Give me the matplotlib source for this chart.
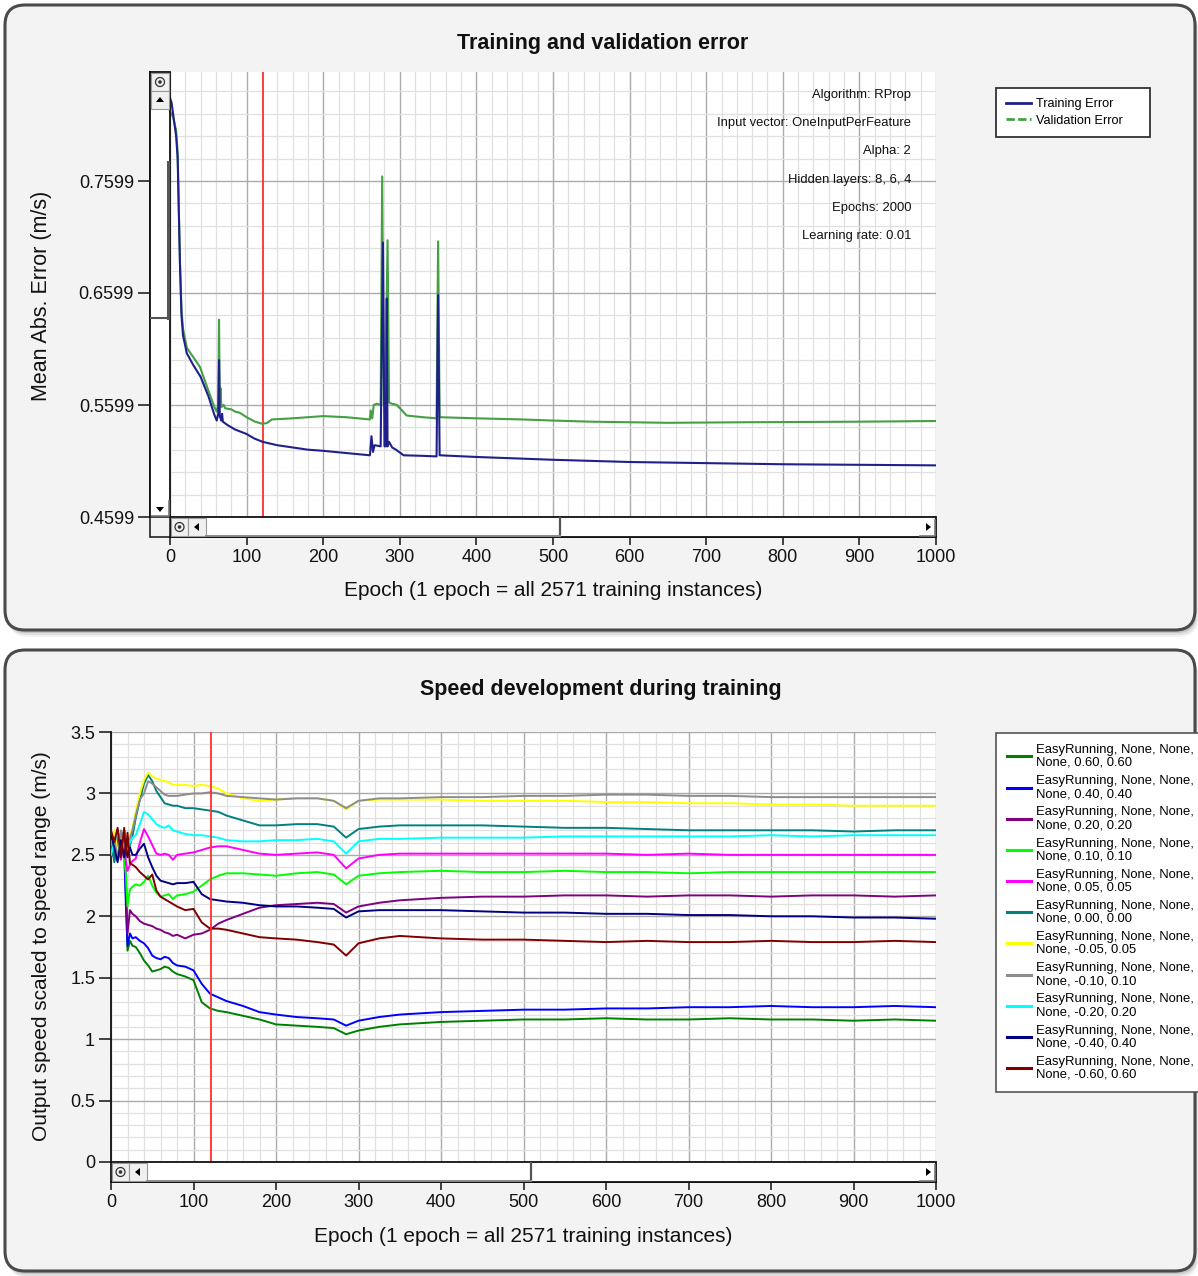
import matplotlib
matplotlib.use('Agg')
import matplotlib.pyplot as plt
from matplotlib.patches import FancyBboxPatch, Rectangle, Polygon, Circle
from matplotlib.lines import Line2D
from matplotlib.ticker import FixedLocator, MultipleLocator
import numpy as np

# ---------------- data: top chart ----------------
train_epoch = [0, 2, 5, 8, 10, 13, 15, 17, 22, 30, 40, 50, 58, 61, 63, 64, 65, 67, 68,
               69, 75, 85, 100, 110, 121, 140, 160, 180, 200, 230, 261, 263, 265, 267, 275,
               278, 280, 282, 283, 284, 286, 290, 295, 305, 330, 348, 350, 352, 400, 500,
               600, 700, 800, 900, 1000]
train_err = [0.834, 0.830, 0.815, 0.800, 0.780, 0.685, 0.640, 0.622, 0.606, 0.596, 0.585,
             0.568, 0.551, 0.546, 0.552, 0.600, 0.550, 0.546, 0.552, 0.545, 0.542, 0.538,
             0.534, 0.530, 0.527, 0.524, 0.522, 0.520, 0.519, 0.517, 0.515, 0.532, 0.518,
             0.524, 0.523, 0.705, 0.523, 0.523, 0.655, 0.523, 0.527, 0.522, 0.520, 0.515,
             0.5145, 0.514, 0.658, 0.515, 0.5135, 0.511, 0.509, 0.508, 0.507, 0.5065, 0.506]

val_epoch = [0, 4, 8, 10, 13, 15, 17, 22, 30, 39, 50, 58, 61, 63, 64, 65, 66, 67, 70, 72,
             80, 85, 91, 100, 111, 121, 127, 133, 160, 200, 230, 261, 262, 264, 266, 270,
             275, 277, 279, 281, 284, 286, 290, 296, 309, 330, 348, 350, 352, 400, 460,
             500, 550, 650, 750, 900, 1000]
val_err = [0.822, 0.817, 0.805, 0.785, 0.689, 0.645, 0.628, 0.611, 0.603, 0.594, 0.573,
           0.558, 0.554, 0.560, 0.636, 0.560, 0.575, 0.558, 0.560, 0.557, 0.556, 0.554,
           0.553, 0.549, 0.545, 0.543, 0.544, 0.547, 0.548, 0.550, 0.549, 0.547, 0.555,
           0.548, 0.560, 0.561, 0.560, 0.764, 0.560, 0.561, 0.707, 0.562, 0.561, 0.560,
           0.5505, 0.549, 0.548, 0.706, 0.549, 0.548, 0.547, 0.546, 0.545, 0.544, 0.5445,
           0.545, 0.5456]

top_info = ["Algorithm: RProp", "Input vector: OneInputPerFeature", "Alpha: 2",
            "Hidden layers: 8, 6, 4", "Epochs: 2000", "Learning rate: 0.01"]
top_yticks = [0.4599, 0.5599, 0.6599, 0.7599]
marker_epoch = 121

# ---------------- data: bottom chart ----------------
speed_epoch = [0, 4, 8, 12, 16, 18, 20, 23, 26, 30, 35, 40, 45, 50, 55, 60, 65, 70, 75, 80,
               90, 100, 110, 120, 130, 140, 160, 180, 200, 225, 250, 270, 285, 300, 325,
               350, 400, 450, 500, 550, 600, 650, 700, 750, 800, 850, 900, 950, 1000]

s_green = [2.62, 2.45, 2.68, 2.55, 2.70, 2.20, 1.72, 1.80, 1.76, 1.75, 1.70, 1.64, 1.60,
           1.55, 1.56, 1.57, 1.59, 1.58, 1.55, 1.53, 1.51, 1.48, 1.30, 1.25, 1.23, 1.22,
           1.19, 1.16, 1.12, 1.11, 1.10, 1.09, 1.04, 1.07, 1.10, 1.12, 1.14, 1.15, 1.16,
           1.16, 1.17, 1.16, 1.16, 1.17, 1.16, 1.16, 1.15, 1.16, 1.15]
s_blue = [2.55, 2.68, 2.48, 2.66, 2.52, 2.10, 1.76, 1.86, 1.82, 1.83, 1.80, 1.78, 1.74,
          1.68, 1.66, 1.65, 1.67, 1.66, 1.62, 1.60, 1.59, 1.56, 1.45, 1.37, 1.34, 1.31,
          1.27, 1.22, 1.20, 1.18, 1.17, 1.16, 1.11, 1.15, 1.18, 1.20, 1.22, 1.23, 1.24,
          1.24, 1.25, 1.25, 1.26, 1.26, 1.27, 1.26, 1.26, 1.27, 1.26]
s_purple = [2.48, 2.62, 2.70, 2.50, 2.66, 2.30, 1.86, 2.05, 2.02, 2.00, 1.96, 1.94, 1.93,
            1.92, 1.90, 1.89, 1.87, 1.86, 1.84, 1.85, 1.82, 1.85, 1.86, 1.89, 1.94, 1.97,
            2.02, 2.07, 2.09, 2.10, 2.11, 2.10, 2.03, 2.08, 2.11, 2.13, 2.15, 2.16, 2.16,
            2.17, 2.17, 2.16, 2.17, 2.17, 2.16, 2.17, 2.17, 2.16, 2.17]
s_lime = [2.65, 2.50, 2.62, 2.68, 2.45, 2.35, 2.08, 2.22, 2.24, 2.26, 2.25, 2.28, 2.33,
          2.25, 2.19, 2.16, 2.17, 2.18, 2.14, 2.17, 2.18, 2.20, 2.25, 2.30, 2.33, 2.35,
          2.35, 2.34, 2.33, 2.35, 2.36, 2.34, 2.26, 2.33, 2.35, 2.36, 2.37, 2.36, 2.36,
          2.37, 2.36, 2.36, 2.35, 2.36, 2.36, 2.36, 2.36, 2.36, 2.36]
s_magenta = [2.52, 2.66, 2.58, 2.46, 2.62, 2.45, 2.37, 2.42, 2.45, 2.47, 2.60, 2.71, 2.65,
             2.58, 2.51, 2.50, 2.51, 2.50, 2.46, 2.50, 2.51, 2.52, 2.54, 2.56, 2.57, 2.57,
             2.54, 2.51, 2.50, 2.51, 2.52, 2.50, 2.39, 2.47, 2.50, 2.51, 2.51, 2.51, 2.51,
             2.51, 2.51, 2.50, 2.51, 2.50, 2.50, 2.50, 2.50, 2.50, 2.50]
s_teal = [2.68, 2.44, 2.66, 2.60, 2.70, 2.55, 2.50, 2.58, 2.65, 2.80, 2.95, 3.08, 3.15,
          3.10, 3.02, 2.97, 2.92, 2.91, 2.90, 2.90, 2.88, 2.88, 2.87, 2.86, 2.85, 2.82,
          2.78, 2.74, 2.74, 2.75, 2.75, 2.73, 2.64, 2.71, 2.73, 2.74, 2.74, 2.74, 2.73,
          2.72, 2.72, 2.71, 2.70, 2.70, 2.70, 2.70, 2.69, 2.70, 2.70]
s_yellow = [2.60, 2.70, 2.52, 2.64, 2.58, 2.60, 2.62, 2.66, 2.72, 2.85, 3.00, 3.11, 3.17,
            3.14, 3.12, 3.11, 3.10, 3.09, 3.07, 3.07, 3.07, 3.06, 3.07, 3.06, 3.04, 3.00,
            2.96, 2.94, 2.95, 2.96, 2.96, 2.94, 2.87, 2.94, 2.95, 2.95, 2.95, 2.94, 2.94,
            2.94, 2.93, 2.93, 2.92, 2.92, 2.91, 2.91, 2.90, 2.90, 2.90]
s_gray = [2.58, 2.64, 2.46, 2.70, 2.54, 2.62, 2.60, 2.64, 2.70, 2.82, 2.95, 3.00, 3.10,
          3.08, 3.05, 3.02, 2.99, 2.98, 2.98, 2.98, 2.99, 3.00, 3.00, 3.01, 3.00, 2.98,
          2.97, 2.96, 2.95, 2.96, 2.96, 2.94, 2.88, 2.94, 2.96, 2.96, 2.97, 2.97, 2.98,
          2.98, 2.99, 2.99, 2.98, 2.98, 2.97, 2.97, 2.97, 2.97, 2.97]
s_cyan = [2.50, 2.60, 2.68, 2.52, 2.60, 2.58, 2.56, 2.60, 2.64, 2.66, 2.75, 2.85, 2.83,
          2.79, 2.75, 2.73, 2.72, 2.74, 2.70, 2.69, 2.67, 2.66, 2.66, 2.65, 2.64, 2.62,
          2.61, 2.61, 2.62, 2.62, 2.63, 2.61, 2.51, 2.61, 2.63, 2.63, 2.64, 2.64, 2.64,
          2.65, 2.65, 2.65, 2.65, 2.65, 2.66, 2.65, 2.66, 2.66, 2.66]
s_navy = [2.66, 2.56, 2.44, 2.62, 2.48, 2.58, 2.48, 2.56, 2.50, 2.50, 2.55, 2.59, 2.48,
          2.40, 2.33, 2.29, 2.28, 2.27, 2.26, 2.27, 2.27, 2.28, 2.18, 2.14, 2.13, 2.12,
          2.11, 2.09, 2.08, 2.08, 2.07, 2.06, 1.99, 2.04, 2.05, 2.05, 2.05, 2.04, 2.03,
          2.03, 2.02, 2.02, 2.01, 2.01, 2.00, 2.00, 1.99, 1.99, 1.98]
s_maroon = [2.70, 2.60, 2.72, 2.48, 2.72, 2.50, 2.68, 2.43, 2.42, 2.40, 2.36, 2.33, 2.30,
            2.34, 2.21, 2.16, 2.14, 2.12, 2.10, 2.08, 2.05, 2.06, 1.95, 1.90, 1.90, 1.89,
            1.86, 1.83, 1.82, 1.81, 1.79, 1.77, 1.68, 1.78, 1.82, 1.84, 1.82, 1.81, 1.81,
            1.80, 1.79, 1.80, 1.79, 1.79, 1.80, 1.79, 1.79, 1.80, 1.79]

speed_series = [s_green, s_blue, s_purple, s_lime, s_magenta, s_teal, s_yellow, s_gray,
                s_cyan, s_navy, s_maroon]
speed_params = ["0.60, 0.60", "0.40, 0.40", "0.20, 0.20", "0.10, 0.10", "0.05, 0.05",
                "0.00, 0.00", "-0.05, 0.05", "-0.10, 0.10", "-0.20, 0.20", "-0.40, 0.40",
                "-0.60, 0.60"]
speed_colors = ['#008000', '#0000ff', '#800080', '#00ff00', '#ff00ff', '#008080',
                '#ffff00', '#8c8c8c', '#00ffff', '#000080', '#800000']

# ---------------- figure ----------------
W, H = 1198, 1276
plt.rcParams['font.family'] = ['Liberation Sans', 'DejaVu Sans']
fig = plt.figure(figsize=(W / 100, H / 100), dpi=100, facecolor='white')

bg = fig.add_axes([0, 0, 1, 1], zorder=0)
bg.set_xlim(0, W); bg.set_ylim(H, 0); bg.axis('off')


def panel(x0, y0, x1, y1):
    for off, a in [(7, 0.05), (5, 0.08), (3, 0.12)]:
        bg.add_patch(FancyBboxPatch((x0 + off * 0.5, y0 + off), x1 - x0, y1 - y0,
                                    boxstyle='round,pad=0,rounding_size=20',
                                    fc='black', ec='none', alpha=a))
    bg.add_patch(FancyBboxPatch((x0, y0), x1 - x0, y1 - y0,
                                boxstyle='round,pad=0,rounding_size=20',
                                fc='#f3f3f3', ec='#4a4a4a', lw=2.2))


panel(5, 5, 1195, 630)
panel(5, 650, 1195, 1271)


def px_axes(x0, y0, x1, y1):
    return fig.add_axes([x0 / W, 1 - y1 / H, (x1 - x0) / W, (y1 - y0) / H], zorder=2)


def style_axes(ax):
    ax.set_facecolor('white')
    for s in ['top', 'right']:
        ax.spines[s].set_visible(False)
    for s in ['left', 'bottom']:
        ax.spines[s].set_color('#111111')
        ax.spines[s].set_linewidth(1.3)
    ax.grid(which='major', color='#ababab', lw=1.0, zorder=0)
    ax.grid(which='minor', color='#e0e0e0', lw=0.9, zorder=0)
    ax.set_axisbelow(True)
    ax.tick_params(which='minor', length=0)
    ax.tick_params(axis='x', which='major', length=5.5, width=1.1, pad=3,
                   labelsize=13, colors='#111111')
    ax.tick_params(axis='y', which='major', length=8.5, width=1.1, pad=3,
                   labelsize=13, colors='#111111')
    ax.xaxis.set_major_locator(MultipleLocator(100))
    ax.xaxis.set_minor_locator(MultipleLocator(20))
    ax.set_xlim(0, 1000)


# ---- top axes ----
ax1 = px_axes(170, 72, 936, 517)
style_axes(ax1)
ax1.set_ylim(0.4599, 0.4599 + 445 / 1120)
ax1.yaxis.set_major_locator(FixedLocator(top_yticks))
ax1.set_yticklabels(['%.4f' % v for v in top_yticks])
ax1.yaxis.set_minor_locator(FixedLocator(list(np.arange(0.4599, 0.86, 0.02))))
ax1.spines['left'].set_position(('outward', 14.4))
ax1.spines['bottom'].set_position(('outward', 14.4))
ax1.axvline(marker_epoch, color='#ff3030', lw=1.3, zorder=3)
val_color = '#45a045'
tr_color = '#20208c'
ax1.plot(val_epoch, val_err, color=val_color, lw=1.5, zorder=4)
ax1.plot(train_epoch, train_err, color=tr_color, lw=1.5, zorder=5)
leg1 = ax1.legend([Line2D([], [], color=tr_color, lw=2),
                   Line2D([], [], color=val_color, lw=2, ls=(0, (3, 1.2)))],
                  ['Training Error', 'Validation Error'],
                  loc='upper left', bbox_to_anchor=(996 / W, 1 - 136 / H, 154 / W, 48 / H),
                  mode='expand', bbox_transform=fig.transFigure, fontsize=9.2,
                  fancybox=False, framealpha=1, edgecolor='#333333', handlelength=1.9,
                  handletextpad=0.4, borderpad=0.8, labelspacing=0.35, borderaxespad=0)
leg1.get_frame().set_linewidth(1.3)

# ---- bottom axes ----
ax2 = px_axes(111, 732, 936, 1162)
style_axes(ax2)
ax2.set_ylim(0, 3.5)
ax2.yaxis.set_major_locator(MultipleLocator(0.5))
ax2.yaxis.set_minor_locator(MultipleLocator(0.1))
ax2.set_yticks([0, 0.5, 1, 1.5, 2, 2.5, 3, 3.5])
ax2.set_yticklabels(['0', '0.5', '1', '1.5', '2', '2.5', '3', '3.5'])
ax2.spines['bottom'].set_position(('outward', 14.4))
ax2.axvline(marker_epoch, color='#ff3030', lw=1.3, zorder=5)
handles = []
labels = []
for vals, par, col in zip(speed_series, speed_params, speed_colors):
    ax2.plot(speed_epoch, vals, color=col, lw=1.4, zorder=3)
    handles.append(Line2D([], [], color=col, lw=2.2))
    labels.append('EasyRunning, None, None,\nNone, ' + par)
leg2 = ax2.legend(handles, labels, loc='upper left',
                  bbox_to_anchor=(996 / W, 1 - 1090 / H, 230 / W, 357 / H), mode='expand',
                  bbox_transform=fig.transFigure,
                  fontsize=9.4, fancybox=False, framealpha=1, edgecolor='#555555',
                  handlelength=1.8, handletextpad=0.4, borderpad=0.85,
                  labelspacing=0.48, borderaxespad=0)
leg2.get_frame().set_linewidth(1.2)
for t in leg2.get_texts():
    t.set_linespacing(1.1)

# ---- texts ----
fig.text(603 / W, 1 - 44 / H, 'Training and validation error', ha='center', va='center',
         fontsize=15.5, fontweight='bold', color='#111111')
fig.text(601 / W, 1 - 689 / H, 'Speed development during training', ha='center',
         va='center', fontsize=15.5, fontweight='bold', color='#111111')
fig.text(553 / W, 1 - 591 / H, 'Epoch (1 epoch = all 2571 training instances)',
         ha='center', va='center', fontsize=15, color='#111111')
fig.text(523 / W, 1 - 1236 / H, 'Epoch (1 epoch = all 2571 training instances)',
         ha='center', va='center', fontsize=15, color='#111111')
fig.text(42 / W, 1 - 296 / H, 'Mean Abs. Error (m/s)', ha='center', va='center',
         rotation=90, fontsize=15.5, color='#111111')
fig.text(42 / W, 1 - 946 / H, 'Output speed scaled to speed range (m/s)', ha='center',
         va='center', rotation=90, fontsize=15, color='#111111')

# ---- overlay: scrollbars and info text ----
ov = fig.add_axes([0, 0, 1, 1], zorder=6)
ov.set_xlim(0, W); ov.set_ylim(H, 0); ov.axis('off')
ov.patch.set_alpha(0)

for i, s in enumerate(top_info):
    ov.text(911, 95 + i * 28.2, s, ha='right', va='center', fontsize=9.4, color='#111111')


def icon(cx, cy):
    ov.add_patch(Circle((cx, cy), 4.5, fc='none', ec='#333333', lw=0.9))
    ov.add_patch(Circle((cx, cy), 1.8, fc='#333333', ec='none'))


def hscroll(x0, x1, y0, y1, thumb_end):
    cy = (y0 + y1) / 2
    ov.add_patch(Rectangle((x0, y0), x1 - x0, y1 - y0, fc='white', ec='#111111', lw=1.3))
    ov.add_patch(Rectangle((x0 + 1, y0 + 1), 17, y1 - y0 - 2, fc='#f0f0f0', ec='#9a9a9a', lw=0.8))
    icon(x0 + 9.5, cy)
    ov.add_patch(Rectangle((x0 + 18, y0 + 1), 18, y1 - y0 - 2, fc='#f0f0f0', ec='#9a9a9a', lw=0.8))
    ov.add_patch(Polygon([[x0 + 24, cy], [x0 + 29, cy - 4], [x0 + 29, cy + 4]], fc='black'))
    ov.plot([thumb_end, thumb_end], [y0 + 1, y1 - 1], color='#555555', lw=1.6)
    ov.plot([x0 + 36, thumb_end], [y1 - 1.5, y1 - 1.5], color='#8a8a8a', lw=1.4)
    ov.add_patch(Polygon([[x1 - 5, cy], [x1 - 10, cy - 4], [x1 - 10, cy + 4]], fc='black'))
    ov.plot([x1 - 16, x1 - 1.5, x1 - 1.5], [y1 - 1.5, y1 - 1.5, y0 + 3], color='#777777', lw=1.2)


def vscroll(x0, x1, y0, y1, thumb_end):
    cx = (x0 + x1) / 2
    ov.add_patch(Rectangle((x0, y0), x1 - x0, y1 - y0, fc='white', ec='#111111', lw=1.3))
    ov.add_patch(Rectangle((x0 + 1, y0 + 1), x1 - x0 - 2, 18, fc='#f0f0f0', ec='#9a9a9a', lw=0.8))
    icon(cx, y0 + 10)
    ov.add_patch(Rectangle((x0 + 1, y0 + 19), x1 - x0 - 2, 18, fc='#f0f0f0', ec='#9a9a9a', lw=0.8))
    ov.add_patch(Polygon([[cx, y0 + 25], [cx - 4, y0 + 30], [cx + 4, y0 + 30]], fc='black'))
    ov.plot([x1 - 2, x1 - 2], [y0 + 90, thumb_end], color='#555555', lw=2.2)
    ov.plot([x0 + 1, x1 - 1], [thumb_end, thumb_end], color='#555555', lw=1.5)
    ov.add_patch(Polygon([[cx, y1 - 5], [cx - 4, y1 - 10], [cx + 4, y1 - 10]], fc='black'))
    ov.plot([x0 + 2, x1 - 1.5, x1 - 1.5], [y1 - 1.5, y1 - 1.5, y1 - 16], color='#777777', lw=1.2)


hscroll(170, 936, 517, 537, 560)
vscroll(150, 170, 72, 517, 318)
ov.add_patch(Rectangle((150, 517), 20, 20, fc='#f3f3f3', ec='#111111', lw=1.1))
hscroll(111, 936, 1162, 1182, 531)

fig.savefig('out.png', dpi=100, facecolor='white')
